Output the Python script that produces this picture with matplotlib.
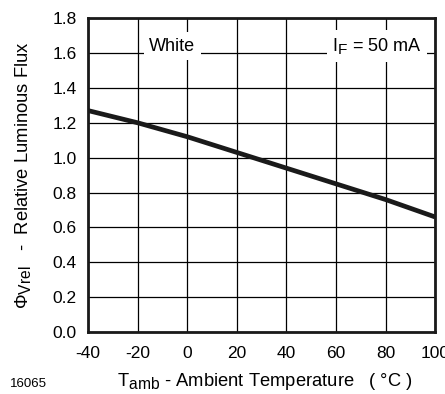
import matplotlib
matplotlib.use('Agg')
import matplotlib.pyplot as plt
import matplotlib._mathtext as mt

plt.rcParams['font.family'] = ['Liberation Sans', 'DejaVu Sans']
plt.rcParams['mathtext.fontset'] = 'custom'
plt.rcParams['mathtext.rm'] = 'Liberation Sans'
plt.rcParams['mathtext.it'] = 'Liberation Sans'
mt.SHRINK_FACTOR = 0.85  # subscripts in the reference are almost full size

# data
temp = [-40, -20, 0, 20, 40, 60, 80, 100]
flux = [1.27, 1.20, 1.12, 1.03, 0.94, 0.85, 0.76, 0.66]
xticks = [-40, -20, 0, 20, 40, 60, 80, 100]
yticks = [0.0, 0.2, 0.4, 0.6, 0.8, 1.0, 1.2, 1.4, 1.6, 1.8]

fig = plt.figure(figsize=(4.45, 3.94), dpi=100)
ax = fig.add_axes([0.198, 0.157, 0.780, 0.797])

ax.plot(temp, flux, color='#1a1a1a', lw=3.4, solid_capstyle='butt', zorder=4)

ax.set_xlim(-40, 100)
ax.set_ylim(0, 1.8)
ax.set_xticks(xticks)
ax.set_yticks(yticks)
ax.set_xticklabels([str(t) for t in xticks])
ax.set_yticklabels(['%.1f' % v for v in yticks])
ax.tick_params(length=0, labelsize=12.5)
ax.tick_params(axis='x', pad=10)
ax.tick_params(axis='y', pad=8)
ax.grid(True, color='black', lw=0.9)
ax.set_axisbelow(True)
for s in ax.spines.values():
    s.set_linewidth(2)
    s.set_color('#1a1a1a')

ax.text(-6, 1.64, 'White', fontsize=13, ha='center', va='center',
        bbox=dict(facecolor='white', edgecolor='none', pad=4), zorder=5)
ax.text(76.5, 1.64, r'I$_\mathregular{F}$ = 50 mA', fontsize=13, ha='center',
        va='center', bbox=dict(facecolor='white', edgecolor='none', pad=4), zorder=5)

ax.set_xlabel(r'T$_\mathregular{amb}$ - Ambient Temperature   ( $\degree$C )',
              fontsize=13.2)
ax.set_ylabel(r'$\Phi_\mathregular{Vrel}$   -  Relative Luminous Flux',
              fontsize=13.2)
ax.xaxis.set_label_coords(0.51, -0.125)
ax.yaxis.set_label_coords(-0.16, 0.5)

fig.text(0.022, 0.017, '16065', fontsize=9.5)

fig.savefig('out.png', dpi=100)
